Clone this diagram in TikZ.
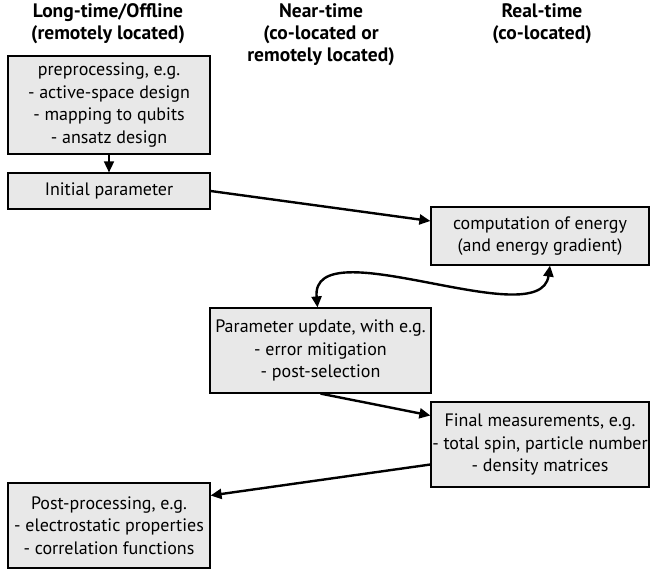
\documentclass[tikz,border=0pt]{standalone}
\usepackage{fontspec}
\setmainfont{PT Sans}
\usetikzlibrary{arrows.meta}
\definecolor{boxgray}{RGB}{232,232,232}
\tikzset{
    stage/.style={rectangle, draw, fill=boxgray, line width=1.2pt, align=center,
        inner sep=0pt, font=\fontsize{18}{22.5}\selectfont},
    head/.style={align=center, font=\bfseries\fontsize{19.5}{22}\selectfont},
    flow/.style={-{Triangle[length=11pt,width=10pt]}, line width=2.4pt},
}
\begin{document}
\begin{tikzpicture}[x=1pt, y=-1pt]
            \useasboundingbox (0,0) rectangle (651,570);
            % Headers
            \node (hlong) [head] at (108, 24) {Long-time/Offline\\(remotely located)};
            \node (hnear) [head] at (321, 35) {Near-time\\(co-located or\\remotely located)};
            \node (hreal) [head] at (542, 24) {Real-time\\(co-located)};

            % Nodes
            \node (pre) [stage, minimum width=202pt, minimum height=98pt] at (109, 105)
                {preprocessing, e.g.\\- active-space design\\- mapping to qubits\\- ansatz design};
            \node (init) [stage, minimum width=202pt, minimum height=36pt] at (109, 191)
                {Initial parameter};
            \node (comp) [stage, minimum width=218pt, minimum height=58pt] at (540, 236)
                {computation of energy\\(and energy gradient)};
            \node (upd) [stage, minimum width=221pt, minimum height=85pt] at (320.5, 350.5)
                {Parameter update, with e.g.\\- error mitigation\\- post-selection};
            \node (final) [stage, minimum width=218pt, minimum height=85pt] at (540, 444.5)
                {Final measurements, e.g.\\- total spin, particle number\\- density matrices};
            \node (post) [stage, minimum width=202pt, minimum height=85pt] at (109, 525.5)
                {Post-processing, e.g.\\- electrostatic properties\\- correlation functions};

            % Edges
            \draw[flow, line width=1.6pt] (pre) -- (init);
            \draw[flow] (init.east) -- ([yshift=15pt]comp.west);
            \draw[flow] (upd.south) -- ([yshift=29pt]final.west);
            \draw[flow] ([yshift=-20pt]final.west) -- ([yshift=30pt]post.east);
            % loop between update and energy
            \draw[flow, {Triangle[length=11pt,width=10pt]}-{Triangle[length=11pt,width=10pt]}]
                ([xshift=-3pt]upd.north) .. controls +(-7,-81) and +(-10,70) .. ([xshift=10pt]comp.south);

\end{tikzpicture}
\end{document}
